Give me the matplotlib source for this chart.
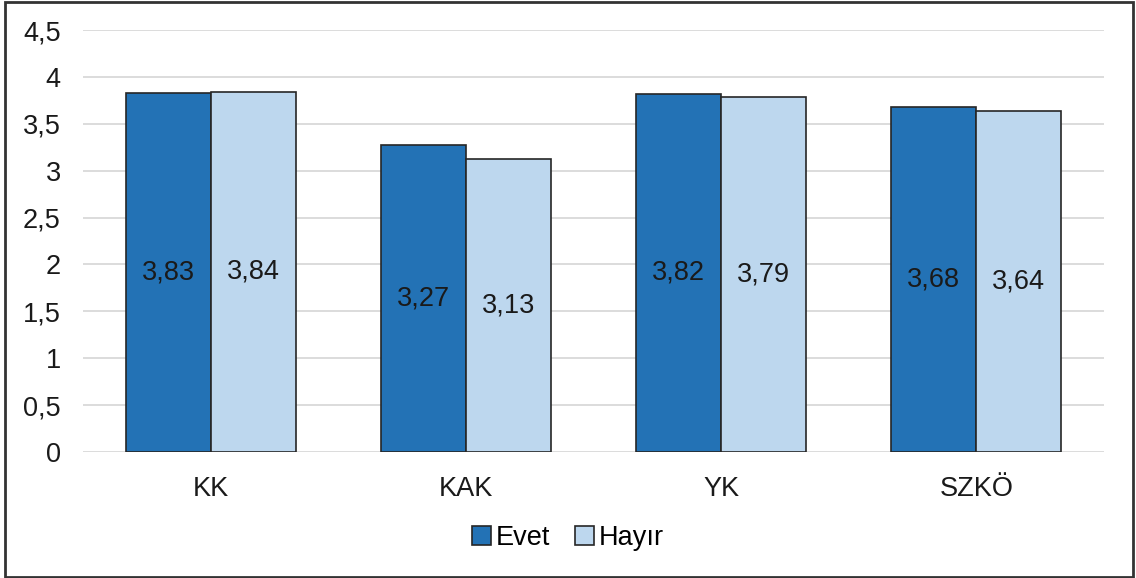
import matplotlib.pyplot as plt
import numpy as np
from matplotlib.patches import Rectangle

categories = ["KK", "KAK", "YK", "SZKÖ"]
evet = [3.83, 3.27, 3.82, 3.68]
hayir = [3.84, 3.13, 3.79, 3.64]
series_names = ["Evet", "Hayır"]
colors = ["#2372B5", "#BDD7EE"]

plt.rcParams["font.family"] = ["Liberation Sans", "DejaVu Sans"]
FS = 19.5

fig = plt.figure(figsize=(11.36, 5.78), dpi=100)
ax = fig.add_axes([0.0731, 0.218, 0.8987, 0.730])

x = np.arange(len(categories))
width = 0.333

for offset, vals, name, color in zip((-width / 2, width / 2), (evet, hayir),
                                     series_names, colors):
    bars = ax.bar(x + offset, vals, width, color=color, edgecolor="#262626",
                  linewidth=1.2, label=name, zorder=3)
    for b, v in zip(bars, vals):
        ax.text(b.get_x() + b.get_width() / 2, v / 2,
                f"{v:.2f}".replace(".", ","), ha="center", va="center",
                fontsize=FS, color="#1a1a1a", zorder=4)

ax.set_xlim(-0.5, len(categories) - 0.5)
ax.set_ylim(0, 4.5)
yt = np.arange(0, 4.51, 0.5)
ax.set_yticks(yt)
ax.set_yticklabels([f"{t:g}".replace(".", ",") for t in yt])
ax.set_xticks(x)
ax.set_xticklabels(categories)
ax.tick_params(axis="both", length=0, labelsize=FS, colors="#1a1a1a")
ax.tick_params(axis="x", pad=17)
ax.tick_params(axis="y", pad=16)
ax.grid(axis="y", color="#D9D9D9", linewidth=1.3, zorder=0)
for s in ax.spines.values():
    s.set_visible(False)

fig.legend(loc="center", bbox_to_anchor=(0.5, 0.07), ncol=2, frameon=False,
           fontsize=FS, handlelength=0.7, handleheight=0.7,
           handletextpad=0.2, columnspacing=0.9)

# outer frame around the whole chart
fig.add_artist(Rectangle((0.004, 0.002), 0.993, 0.994, transform=fig.transFigure,
                         fill=False, edgecolor="#333333", linewidth=2))

fig.savefig("out.png", dpi=100)
